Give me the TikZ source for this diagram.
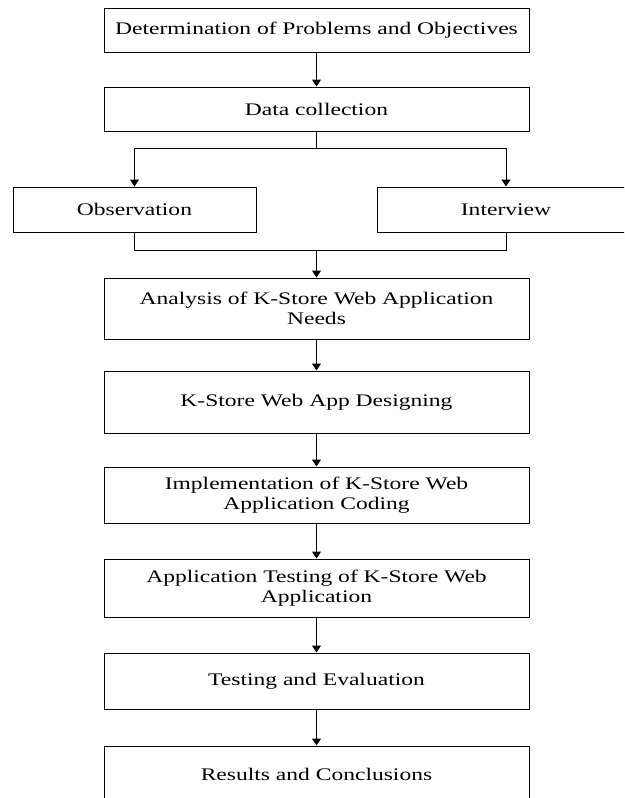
\documentclass[tikz,border=0pt]{standalone}
\usepackage{fontspec}
\setmainfont{Liberation Serif}[FakeStretch=1.33]
\usetikzlibrary{arrows.meta, positioning}

\begin{document}
\begin{tikzpicture}[x=1pt, y=-1pt,
  flowbox/.style={draw, line width=1pt, minimum width=425pt, minimum height=44pt, inner sep=0pt, align=center, font=\fontsize{17.7}{20}\selectfont},
  flowarrow/.style={line width=1pt, -{Triangle[length=7pt,width=9pt]}},
  flowline/.style={line width=1pt}]
\useasboundingbox (0,0) rectangle (624,798);
\clip (0,0) rectangle (624,798);
% boxes
\node[flowbox] (problems) at (316.5,30) {Determination of Problems and Objectives};
\node[flowbox] (collection) at (316.5,109) {Data collection};
\node[flowbox, minimum width=243pt, minimum height=45pt] (observation) at (134.5,209.5) {Observation};
\node[flowbox, minimum width=258pt, minimum height=45pt] (interview) at (506,209.5) {Interview};
\node[flowbox, minimum height=61pt] (analysis) at (316.5,308.5) {Analysis of K-Store Web Application\\Needs};
\node[flowbox, minimum height=62pt] (designing) at (316.5,402) {K-Store Web App Designing};
\node[flowbox, minimum height=56pt] (coding) at (316.5,495) {Implementation of K-Store Web\\Application Coding};
\node[flowbox, minimum height=58pt] (apptesting) at (316.5,588) {Application Testing of K-Store Web\\Application};
\node[flowbox, minimum height=56pt] (evaluation) at (316.5,681) {Testing and Evaluation};
\node[flowbox, minimum height=56pt] (results) at (316.5,774) {Results and Conclusions};
% connectors
\coordinate (split) at (316.5,148);
\coordinate (join) at (316.5,250);
\draw[flowarrow] (problems) -- (collection);
\draw[flowline] (collection) -- (split);
\draw[flowarrow] (split) -| (observation);
\draw[flowarrow] (split) -| (interview);
\draw[flowline] (observation) |- (join);
\draw[flowline] (interview) |- (join);
\draw[flowarrow] (join) -- (analysis);
\draw[flowarrow] (analysis) -- (designing);
\draw[flowarrow] (designing) -- (coding);
\draw[flowarrow] (coding) -- (apptesting);
\draw[flowarrow] (apptesting) -- (evaluation);
\draw[flowarrow] (evaluation) -- (results);
\end{tikzpicture}
\end{document}
